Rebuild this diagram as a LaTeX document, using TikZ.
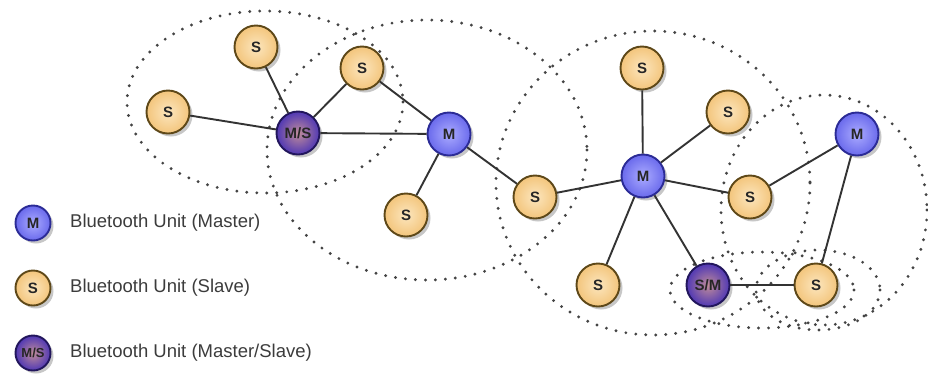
\documentclass[tikz,border=0pt]{standalone}
\usepackage{fontspec}
\setmainfont{Liberation Sans}
\usetikzlibrary{shadows}
\definecolor{sfill}{HTML}{F3C57C}
\definecolor{sinner}{HTML}{FCE6BE}
\definecolor{sdraw}{HTML}{5E4818}
\definecolor{mfill}{HTML}{6A6AEC}
\definecolor{minner}{HTML}{ABABFF}
\definecolor{mdraw}{HTML}{2B2B96}
\definecolor{msfill}{HTML}{5038B4}
\definecolor{msinner}{HTML}{C08C9A}
\definecolor{msdraw}{HTML}{22165C}
\definecolor{linkcol}{HTML}{333333}
\definecolor{dotcol}{HTML}{444444}
\definecolor{txtcol}{HTML}{3C3C3C}
\tikzset{
  unit/.style={circle, line width=1.9pt, minimum size=43pt, inner sep=0pt,
    font=\fontsize{15}{15}\bfseries, text=black!85,
    drop shadow={shadow xshift=3pt, shadow yshift=-3pt, opacity=0.22, fill=black}},
  slave/.style={unit, draw=sdraw, inner color=sinner, outer color=sfill},
  master/.style={unit, draw=mdraw, inner color=minner, outer color=mfill},
  mastslave/.style={unit, draw=msdraw, inner color=msinner, outer color=msfill},
  legendunit/.style={minimum size=35pt, font=\fontsize{15}{15}\bfseries},
  link/.style={draw=linkcol, line width=1.9pt},
  piconet/.style={draw=dotcol, line width=3.2pt, dash pattern=on 0pt off 10pt, line cap=round},
  legendtext/.style={anchor=west, text=txtcol, font=\fontsize{18.5}{18.5}\selectfont, inner sep=0pt}
}
\begin{document}
\begin{tikzpicture}[x=1pt,y=-1pt]
\useasboundingbox (0,0) rectangle (928,376);
\fill[white] (0,0) rectangle (928,376);
% piconets
\draw[piconet] (265,102) ellipse [x radius=138, y radius=91];
\draw[piconet] (427,150) ellipse [x radius=160, y radius=130];
\draw[piconet] (653,183) ellipse [x radius=157, y radius=152];
\draw[piconet] (824,210) ellipse [x radius=103, y radius=115];
\draw[piconet] (762,290) ellipse [x radius=92, y radius=38];
\draw[piconet] (818,290) ellipse [x radius=62, y radius=40];
% units
\node[slave] (s1) at (168,112) {S};
\node[slave] (s2) at (256,47) {S};
\node[slave] (s3) at (362,68) {S};
\node[mastslave] (ms) at (298,133) {M/S};
\node[master] (m1) at (449,134) {M};
\node[slave] (s4) at (406,215) {S};
\node[slave] (s5) at (535,197) {S};
\node[master] (m2) at (643,176) {M};
\node[slave] (s6) at (642,68) {S};
\node[slave] (s7) at (728,112) {S};
\node[slave] (s8) at (750,197) {S};
\node[master] (m3) at (857,134) {M};
\node[slave] (s9) at (598,285) {S};
\node[mastslave] (sm) at (708,285) {S/M};
\node[slave] (s10) at (816,285) {S};
% links
\draw[link] (s1) -- (ms);
\draw[link] (s2) -- (ms);
\draw[link] (s3) -- (ms);
\draw[link] (ms) -- (m1);
\draw[link] (s3) -- (m1);
\draw[link] (m1) -- (s4);
\draw[link] (m1) -- (s5);
\draw[link] (s5) -- (m2);
\draw[link] (m2) -- (s6);
\draw[link] (m2) -- (s7);
\draw[link] (m2) -- (s8);
\draw[link] (m2) -- (s9);
\draw[link] (m2) -- (sm);
\draw[link] (s8) -- (m3);
\draw[link] (m3) -- (s10);
\draw[link] (sm) -- (s10);
% legend
\node[master, legendunit] (lm) at (33,223) {M};
\node[slave, legendunit] (ls) at (33,288) {S};
\node[mastslave, legendunit, font=\fontsize{13}{13}\bfseries] (lms) at (33,353) {M/S};
\node[legendtext] (tm) at (70,223) {Bluetooth Unit (Master)};
\node[legendtext] (ts) at (70,288) {Bluetooth Unit (Slave)};
\node[legendtext] (tms) at (70,353) {Bluetooth Unit (Master/Slave)};
\end{tikzpicture}
\end{document}
